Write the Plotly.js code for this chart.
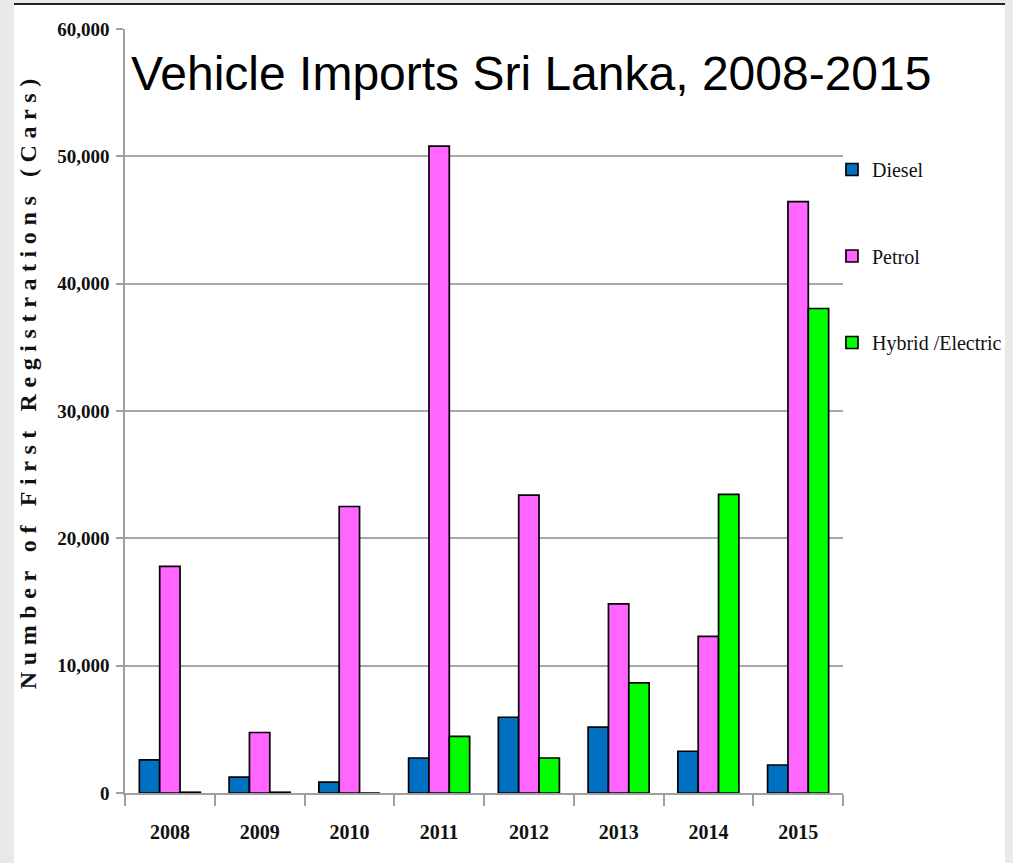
<!DOCTYPE html>
<html>
<head>
<meta charset="utf-8">
<script src="https://cdn.plot.ly/plotly-3.0.1.min.js"></script>
<style>
  html, body { margin: 0; padding: 0; background: #e9e9e9; width: 1013px; height: 863px; overflow: hidden; }
  #topline { position: absolute; left: 14px; top: 3px; width: 991px; height: 2px; background: #222; }
  #plot { position: absolute; left: 14px; top: 5px; width: 991px; height: 858px; background: #fff; }
  .annotation-text { letter-spacing: 6.6px; }
</style>
</head>
<body>
<div id="topline"></div>
<div id="plot"></div>
<script>
const years = ['2008', '2009', '2010', '2011', '2012', '2013', '2014', '2015'];
const diesel = [2600, 1250, 850, 2750, 5950, 5180, 3280, 2200];
const petrol = [17800, 4750, 22500, 50800, 23400, 14850, 12300, 46450];
const hybrid = [60, 60, 0, 4450, 2750, 8650, 23450, 38050];
const seriesNames = ['Diesel', 'Petrol', 'Hybrid /Electric'];
const seriesColors = ['#0070c0', '#ff66ff', '#00ff00'];
const yTicks = [0, 10000, 20000, 30000, 40000, 50000, 60000];
const yTitle = 'Number of First Registrations (Cars)';

const seriesValues = [diesel, petrol, hybrid];
const traces = seriesValues.map((vals, i) => ({
  type: 'bar',
  name: seriesNames[i],
  x: years,
  y: vals,
  legendgroup: 'g' + i,
  marker: { color: seriesColors[i], line: { color: '#000', width: 1.7 } },
  hoverinfo: 'x+y+name'
}));

const serif = 'Liberation Serif, Times New Roman, serif';

const layout = {
  width: 991,
  height: 858,
  paper_bgcolor: '#ffffff',
  plot_bgcolor: '#ffffff',
  margin: { l: 111, r: 162, t: 24, b: 70, autoexpand: false },
  barmode: 'group',
  bargap: 0.32,
  bargroupgap: 0,
  title: {
    text: 'Vehicle Imports Sri Lanka, 2008-2015',
    font: { family: 'Liberation Sans, Arial, sans-serif', size: 48, color: '#000' },
    x: 0.118, xanchor: 'left', xref: 'container',
    y: 0.921, yanchor: 'middle', yref: 'container'
  },
  xaxis: {
    type: 'category',
    tickson: 'boundaries',
    ticks: 'outside',
    ticklen: 11,
    tickwidth: 1.5,
    tickcolor: '#a0a0a0',
    showline: true,
    linecolor: '#a0a0a0',
    linewidth: 2,
    showgrid: false,
    ticklabelstandoff: 20,
    tickfont: { family: serif, size: 20, color: '#111', weight: 'bold' }
  },
  yaxis: {
    range: [0, 60000],
    tickvals: yTicks,
    tickformat: ',d',
    ticks: 'outside',
    ticklen: 7,
    tickwidth: 1.5,
    tickcolor: '#a0a0a0',
    showline: true,
    linecolor: '#a0a0a0',
    linewidth: 1.5,
    showgrid: true,
    gridcolor: '#a8a8a8',
    gridwidth: 1.5,
    zeroline: false,
    ticklabelstandoff: 3,
    tickfont: { family: serif, size: 19, color: '#111', weight: 'bold' }
  },
  annotations: [{
    text: yTitle,
    textangle: -90,
    xref: 'paper', yref: 'paper',
    x: -0.134, y: 0.54,
    xanchor: 'center', yanchor: 'middle',
    showarrow: false,
    font: { family: serif, size: 24, color: '#111', weight: 'bold' }
  }],
  showlegend: true,
  legend: {
    xref: 'container', yref: 'container',
    x: 0.8254, xanchor: 'left',
    y: 0.831, yanchor: 'top',
    traceorder: 'grouped',
    tracegroupgap: 57.5,
    bgcolor: 'rgba(0,0,0,0)',
    font: { family: serif, size: 20, color: '#111' }
  }
};

Plotly.newPlot('plot', traces, layout, { displayModeBar: false });
</script>
</body>
</html>
